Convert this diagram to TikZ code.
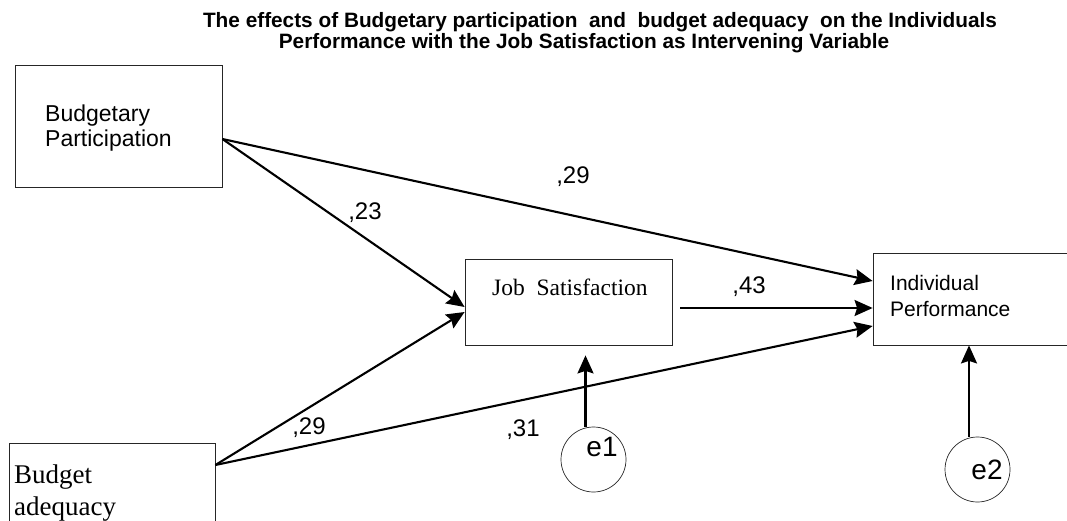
\documentclass[tikz,border=0pt]{standalone}
\usepackage{fontspec}
\setmainfont{Liberation Serif}
\newfontfamily\arial{Liberation Sans}
\usetikzlibrary{arrows.meta}
\begin{document}
\begin{tikzpicture}[x=1pt,y=-1pt,
  box/.style={draw=black!85,line width=0.8pt,rectangle,inner sep=0pt},
  txt/.style={inner sep=0pt,align=left},
  conn/.style={line width=2.1pt,-{Stealth[length=18pt,width=16pt,inset=2.5pt]}},
  lab/.style={inner sep=0pt,anchor=base,font=\arial\fontsize{24}{28}\selectfont},
  err/.style={circle,draw=black!85,line width=0.7pt,minimum size=65pt,inner sep=0pt},
  errlab/.style={inner sep=0pt,font=\arial\fontsize{28}{30}\selectfont},
  ttl/.style={inner sep=0pt,anchor=base,text height=14pt,text depth=3.5pt,
    font=\arial\bfseries\fontsize{20.8}{22}\selectfont}]
\useasboundingbox (0,0) rectangle (1067,521);

% title
\node[ttl] (title1) at (600,28)
  {The effects of Budgetary participation\ \ and\ \ budget adequacy\ \ on the Individuals};
\node[ttl] (title2) at (584,49)
  {Performance with the Job Satisfaction as Intervening Variable};

% boxes
\node[box,minimum width=207pt,minimum height=122pt] (BP) at (118.5,126) {};
\node[txt,anchor=north west,font=\arial\fontsize{23}{25}\selectfont] (BPt) at (45,104.5) {Budgetary\\Participation};

\node[box,minimum width=206pt,minimum height=100pt] (BA) at (112,493) {};
\node[txt,anchor=north west,font=\fontsize{27}{32}\selectfont] (BAt) at (14,464.5) {Budget\\adequacy};

\node[box,minimum width=207pt,minimum height=86pt] (JS) at (568.5,302) {};
\node[txt,anchor=base west,font=\fontsize{23.5}{26}\selectfont] (JSt) at (492,295) {Job\ \ Satisfaction};

\node[box,minimum width=208pt,minimum height=92pt] (IP) at (977,299) {};
\node[txt,anchor=north west,font=\arial\fontsize{21}{26}\selectfont] (IPt) at (890,275) {Individual\\Performance};

% error terms
\node[err] (e1) at (593.5,459.5) {};
\node[errlab] (e1t) at (602,447) {e1};
\node[err] (e2) at (977.5,469.5) {};
\node[errlab] (e2t) at (987,469.5) {e2};

% connectors
\draw[conn] ([yshift=-13pt]BP.east) -- ([yshift=18pt]IP.west);
\draw[conn] ([yshift=-13pt]BP.east) -- ([yshift=-5pt]JS.west);
\draw[conn] ([xshift=8pt,yshift=-6pt]JS.east) -- ([yshift=-9pt]IP.west);
\draw[conn] ([yshift=28pt]BA.east) -- ([yshift=-10pt]JS.west);
\draw[conn] ([yshift=28pt]BA.east) -- ([yshift=-27pt]IP.west);
\draw[conn] ([xshift=-8pt]e1.north) -- ([xshift=17pt,yshift=-10pt]JS.south);
\draw[conn] ([xshift=-8.5pt]e2.north) -- ([xshift=-8pt]IP.south);

% path coefficients
\node[lab] (l1) at (365,220) {,23};
\node[lab] (l2) at (573,184) {,29};
\node[lab] (l3) at (749,293) {,43};
\node[lab] (l4) at (309,434) {,29};
\node[lab] (l5) at (523,436) {,31};
\end{tikzpicture}
\end{document}
